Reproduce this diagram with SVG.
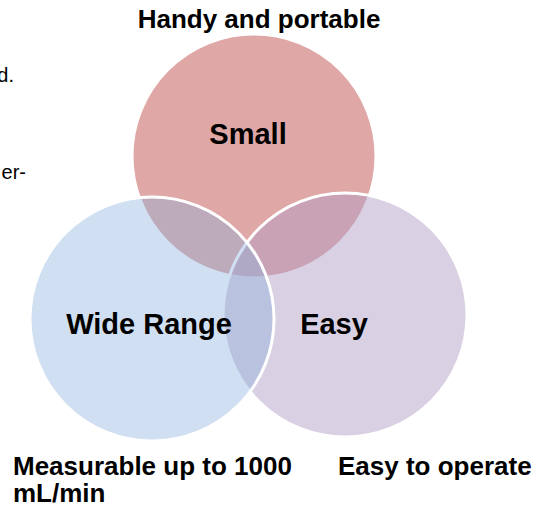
<svg xmlns="http://www.w3.org/2000/svg" width="552" height="513" viewBox="0 0 552 513">
<style>
.c{stroke:#fff;stroke-width:3}
.t{font-family:"Liberation Sans",Arial,sans-serif;font-weight:bold;fill:#000}
.big{font-size:29px;text-anchor:middle}
.cap{font-size:26px}
.frag{font-family:"Liberation Sans",Arial,sans-serif;font-size:20px;fill:#000;text-anchor:end}
</style>
<rect width="552" height="513" fill="#fff"/>
<text class="frag" x="14" y="82">d.</text>
<text class="frag" x="26" y="179">er-</text>
<g id="small">
<circle class="c" cx="254" cy="156" r="122" fill="#C0504D" fill-opacity="0.5"/>
<text class="t big" x="248" y="144">Small</text>
<text class="t cap" x="259" y="28" text-anchor="middle">Handy and portable</text>
</g>
<g id="easy">
<circle class="c" cx="345" cy="315" r="122" fill="#B29FC6" fill-opacity="0.49"/>
<text class="t big" x="334" y="334">Easy</text>
<text class="t cap" x="338" y="475">Easy to operate</text>
</g>
<g id="wide-range">
<circle class="c" cx="152" cy="319" r="122" fill="#8CB1DD" fill-opacity="0.41"/>
<text class="t big" x="149" y="334">Wide Range</text>
<text class="t cap" x="13" y="475">Measurable up to 1000</text>
<text class="t cap" x="13" y="502">mL/min</text>
</g>
</svg>
